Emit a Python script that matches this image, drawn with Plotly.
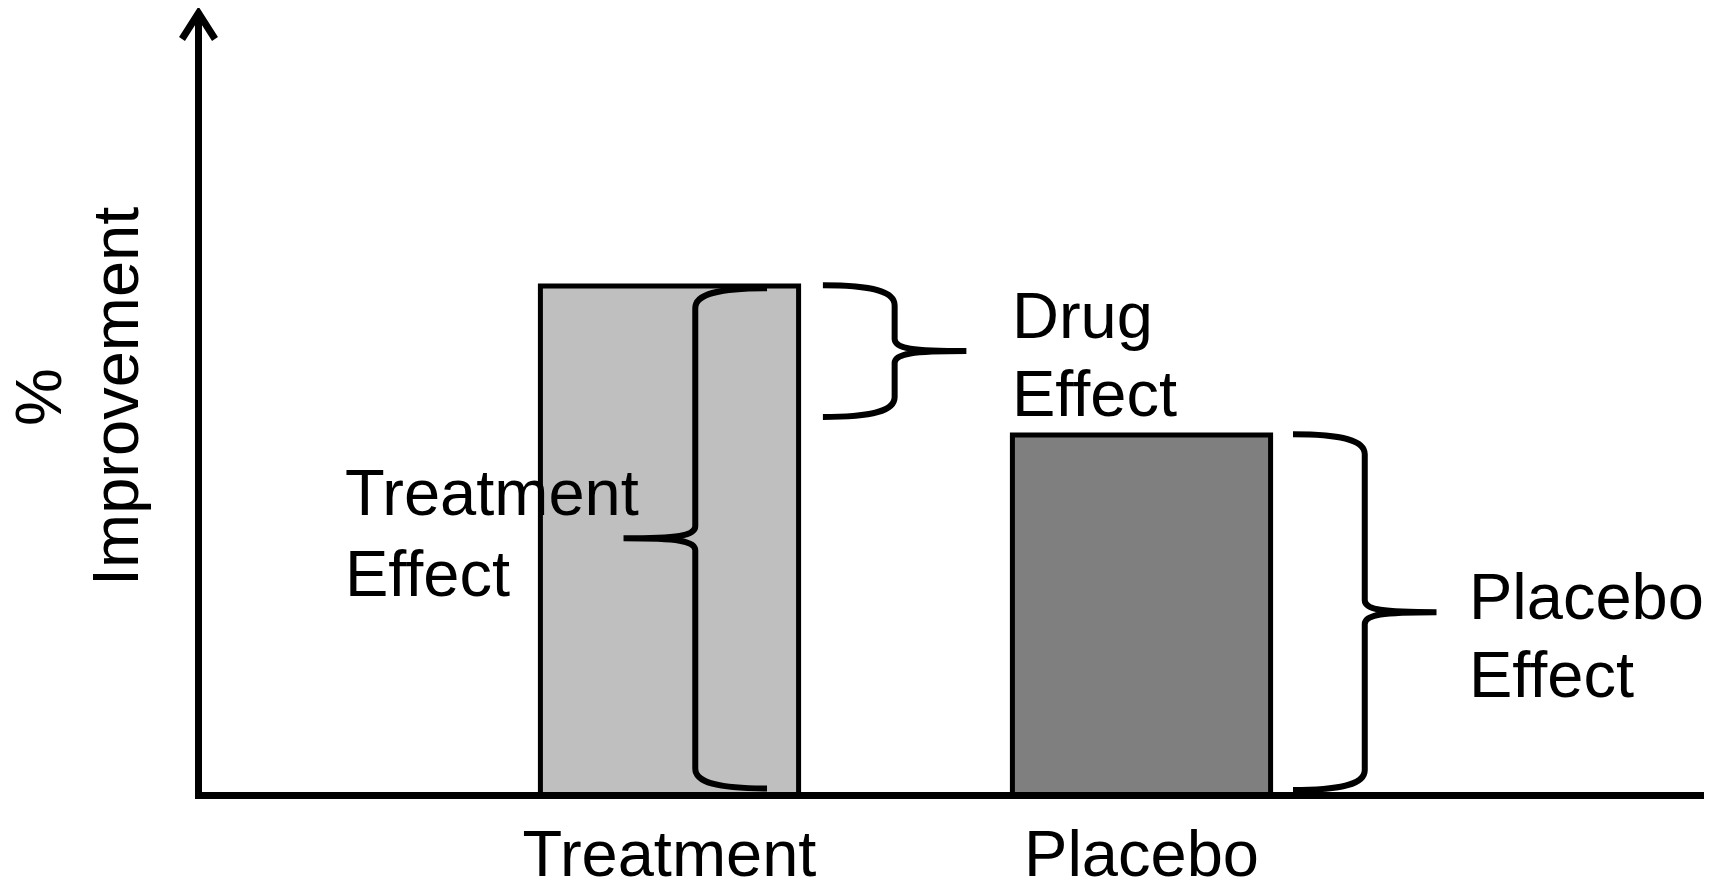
import plotly.graph_objects as go

# ---------------- data ----------------
categories = ["Treatment", "Placebo"]
improvement = [70.0, 49.5]          # % improvement (illustrative)
bar_colors = ["#bfbfbf", "#7f7f7f"]
effect_lines = [["Treatment", "Effect"], ["Drug", "Effect"], ["Placebo", "Effect"]]
y_title_lines = ["%", "Improvement"]

# ---------------- layout geometry (screen px) ----------------
PAGE_OFFSET = 8                    # body margin of the html page
SCREEN_W, SCREEN_H = 1727, 887
W, H = SCREEN_W - PAGE_OFFSET, SCREEN_H - PAGE_OFFSET
PLOT_L, PLOT_R, PLOT_T, PLOT_B = 198, 1704, 14, 795   # plot area on screen
ML, MT = PLOT_L - PAGE_OFFSET, PLOT_T - PAGE_OFFSET
MR = W - (PLOT_R - PAGE_OFFSET)
MB = H - (PLOT_B - PAGE_OFFSET)
PW, PH = PLOT_R - PLOT_L, PLOT_B - PLOT_T
X_PX_PER_UNIT = 472.0
Y_PX_PER_UNIT = 7.271
x_pos = [0, 1]
X_CENTER0 = 669.5
x_range = [-(X_CENTER0 - PLOT_L) / X_PX_PER_UNIT, (PLOT_R - X_CENTER0) / X_PX_PER_UNIT]
y_range = [0, PH / Y_PX_PER_UNIT]
BAR_WIDTH = 0.547
FONT = "Liberation Sans, Arial, Helvetica, sans-serif"
FS = 65


def px_x(px):
    return (px - PLOT_L) / PW


def px_y(py):
    return (PLOT_B - py) / PH


ARM = 0.152                       # brace arm width (x units)
CORNER = 20 / Y_PX_PER_UNIT       # corner curve height (y units)
MID = 12 / Y_PX_PER_UNIT          # middle curve height (y units)


def brace_path(x_end, direction, y_lo, y_hi):
    w = ARM * direction
    xv = x_end + w
    xt = xv + w
    ym = (y_lo + y_hi) / 2
    r, rm = CORNER, MID
    return (
        f"M {x_end},{y_hi} "
        f"C {x_end + 0.7 * w},{y_hi} {xv},{y_hi - 0.3 * r} {xv},{y_hi - r} "
        f"L {xv},{ym + rm} "
        f"C {xv},{ym + 0.2 * rm} {xv + 0.25 * w},{ym} {xt},{ym} "
        f"C {xv + 0.25 * w},{ym} {xv},{ym - 0.2 * rm} {xv},{ym - rm} "
        f"L {xv},{y_lo + r} "
        f"C {xv},{y_lo + 0.3 * r} {x_end + 0.7 * w},{y_lo} {x_end},{y_lo}"
    )


fig = go.Figure()
fig.add_trace(go.Bar(
    x=x_pos, y=improvement, width=BAR_WIDTH,
    marker=dict(color=bar_colors, line=dict(color="black", width=5)),
    hoverinfo="skip", showlegend=False,
))

shapes = []
brace_line = dict(color="black", width=6)
# Treatment effect brace (inside the treatment bar, pointing left)
shapes.append(dict(type="path", xref="x", yref="y", line=brace_line,
                   path=brace_path(x_pos[0] + 0.2066, -1, 0.9, improvement[0] - 0.3)))
# Drug effect brace (right of treatment bar, from placebo level to treatment level)
shapes.append(dict(type="path", xref="x", yref="y", line=brace_line,
                   path=brace_path(x_pos[0] + 0.325, 1, improvement[1] + 2.5, improvement[0] + 0.1)))
# Placebo effect brace
shapes.append(dict(type="path", xref="x", yref="y", line=brace_line,
                   path=brace_path(x_pos[1] + 0.321, 1, 0.7, improvement[1] + 0.1)))

# axes drawn as thick lines with an arrow on the y axis
axis_line = dict(color="black", width=7)
shapes.append(dict(type="line", xref="paper", yref="paper",
                   x0=px_x(195), x1=px_x(1704), y0=px_y(795.5), y1=px_y(795.5), line=axis_line))
shapes.append(dict(type="line", xref="paper", yref="paper",
                   x0=px_x(198.5), x1=px_x(198.5), y0=px_y(799), y1=px_y(14), line=axis_line))
shapes.append(dict(type="path", xref="paper", yref="paper", line=axis_line,
                   path=(f"M {px_x(182)},{px_y(39)} L {px_x(198.5)},{px_y(13)} "
                         f"L {px_x(215)},{px_y(39)}")))

annotations = []
text_font = dict(family=FONT, size=FS, color="black")
label_pos = [(343, [492.5, 573.5]), (1010, [315, 393.5]), (1467, [596.5, 674.5])]
for lines, (lx, ys) in zip(effect_lines, label_pos):
    for line, ly in zip(lines, ys):
        annotations.append(dict(text=line, xref="paper", yref="paper",
                                x=px_x(lx), y=px_y(ly), xanchor="left", yanchor="middle",
                                align="left", showarrow=False, font=text_font))
for line, lx in zip(y_title_lines, [39, 116]):
    annotations.append(dict(text=line, xref="paper", yref="paper",
                            x=px_x(lx), y=px_y(397), xanchor="center", yanchor="middle",
                            textangle=-90, showarrow=False, font=text_font))

fig.update_layout(
    width=W, height=H,
    margin=dict(l=ML, r=MR, t=MT, b=MB, pad=0, autoexpand=False),
    paper_bgcolor="white", plot_bgcolor="white",
    shapes=shapes, annotations=annotations,
    xaxis=dict(range=x_range, tickvals=x_pos, ticktext=categories,
               showgrid=False, zeroline=False, showline=False, ticks="",
               automargin=False,
               tickfont=dict(family=FONT, size=FS, color="black"),
               ticklabelstandoff=15),
    yaxis=dict(range=y_range, showgrid=False, zeroline=False, showline=False,
               showticklabels=False, ticks="", automargin=False),
    showlegend=False,
)

fig.write_html("out.html")
